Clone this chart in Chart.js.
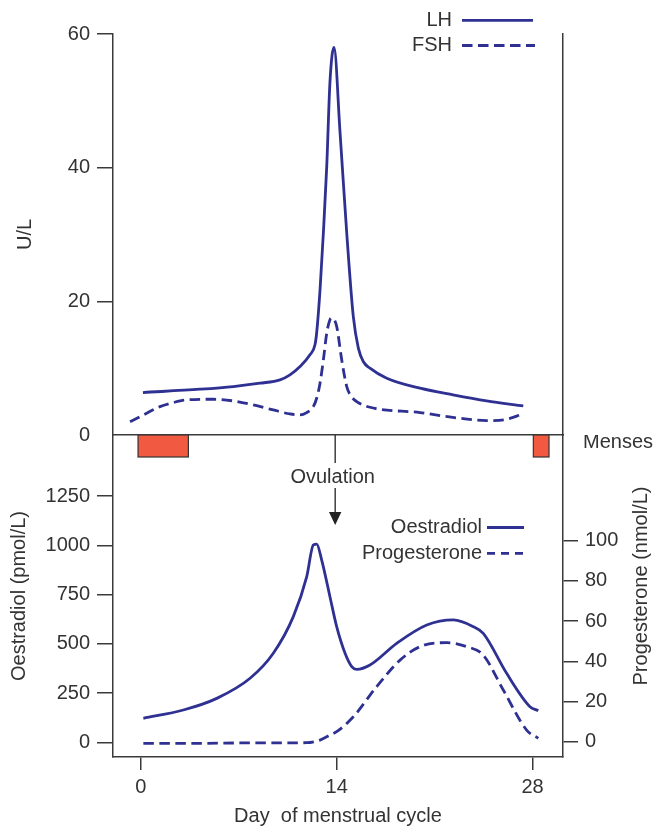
<!DOCTYPE html>
<html>
<head>
<meta charset="utf-8">
<script src="https://cdn.jsdelivr.net/npm/chart.js@4.4.1/dist/chart.umd.min.js"></script>
<style>
html,body{margin:0;padding:0;background:#fff;}
#wrap{position:relative;width:654px;height:826px;overflow:hidden;background:#fff;}
#c1{position:absolute;left:0;top:0;width:654px;height:450px;}
#c2{position:absolute;left:0;top:435px;width:654px;height:391px;}
</style>
</head>
<body>
<div id="wrap">
<canvas id="c1" width="654" height="450"></canvas>
<canvas id="c2" width="654" height="391"></canvas>
</div>
<script>
// ---------- data ----------
const dayTicks = [0, 14, 28];
const uTicks = [0, 20, 40, 60];
const oestradiolTicks = [0, 250, 500, 750, 1000, 1250];
const progesteroneTicks = [0, 20, 40, 60, 80, 100];

const lhDays   = [0.15, 4.23, 6.61, 8.52, 9.95, 10.66, 11.38, 12.09, 12.45, 12.57, 12.81, 13.05, 13.29, 13.52, 13.81, 14.24, 14.72, 15.19, 15.55, 15.90, 16.38, 17.58, 19.96, 22.32, 24.72, 27.34];
const lhValues = [6.35, 6.85, 7.25, 7.75, 8.25, 9.0, 10.25, 12.0, 13.5, 15.3, 21.7, 30.3, 40.2, 52.8, 58.0, 45.3, 30.2, 17.7, 13.0, 11.0, 10.0, 8.5, 7.0, 6.0, 5.1, 4.35];

const fshDays   = [-0.77, 0.18, 1.37, 2.32, 3.28, 5.18, 6.61, 8.04, 9.47, 10.66, 11.38, 11.86, 12.33, 12.57, 12.81, 13.05, 13.29, 13.52, 13.65, 14.0, 14.36, 14.72, 15.08, 15.43, 16.38, 19.96, 22.82, 24.72, 26.15, 27.23];
const fshValues = [2.0, 3.0, 4.25, 4.85, 5.25, 5.35, 5.1, 4.5, 3.75, 3.15, 3.0, 3.35, 4.25, 5.5, 7.75, 11.25, 15.25, 17.25, 17.5, 16.25, 11.25, 7.25, 5.7, 5.0, 4.15, 3.35, 2.5, 2.15, 2.35, 3.1];

const oestradiolDays   = [0.18, 3.04, 5.43, 7.81, 9.47, 10.9, 11.86, 12.33, 12.57, 12.93, 13.52, 14.0, 14.6, 15.08, 15.43, 16.38, 18.29, 20.44, 22.34, 23.77, 24.48, 26.15, 27.82, 28.41];
const oestradiolValues = [122, 164, 223, 325, 452, 638, 841, 1001, 1006, 925, 739, 587, 452, 384, 370, 392, 502, 595, 621, 587, 553, 350, 181, 160];

const progesteroneDays   = [0.18, 4.23, 7.81, 11.86, 12.81, 13.52, 14.0, 15.19, 16.86, 18.53, 19.96, 21.87, 23.3, 24.48, 25.91, 27.58, 28.41];
const progesteroneValues = [-0.8, -0.8, -0.6, -0.5, 0.8, 3.3, 5.0, 12.4, 27.4, 40.6, 47.3, 49.3, 47.3, 43.1, 25.7, 5.8, 1.7];

const mensesStart = [-0.2, 28.06];
const mensesEnd   = [3.4, 29.18];
const ovulationDay = 14;

// ---------- styling ----------
const FONT = "'Liberation Sans', Arial, sans-serif";
const NAVY = '#2e3092';
const AXIS = '#3a3a3a';
const TEXT = '#333333';
const RED = '#f15a40';
const DASH = [10.5, 5.5];
const X_MIN = -1.99, X_MAX = 30.18;

Chart.defaults.font.family = FONT;
Chart.defaults.font.size = 20;
Chart.defaults.color = TEXT;

function pts(xs, ys) { return xs.map((x, i) => ({x: x, y: ys[i]})); }
function fixTicks(values) { return function(scale) { scale.ticks = values.map(v => ({value: v})); }; }
function vFit(width) { return function(s) { s.width = width; s.paddingTop = 0; s.paddingBottom = 0; }; }
function hFit(height) { return function(s) { s.height = height; s.paddingLeft = 0; s.paddingRight = 0; }; }
const plainTick = (v) => String(v);

function lineDs(label, data, dash, axis) {
  return {
    label: label, data: data, borderColor: NAVY, borderWidth: 2.8,
    borderDash: dash, pointRadius: 0, fill: false,
    cubicInterpolationMode: 'monotone', yAxisID: axis || 'y'
  };
}

function drawLegend(ctx, items, textRight, lineStart) {
  ctx.save();
  ctx.font = '20px ' + FONT;
  ctx.fillStyle = TEXT;
  ctx.textAlign = 'right';
  ctx.textBaseline = 'middle';
  items.forEach(it => {
    ctx.fillText(it.label, textRight, it.y);
    ctx.beginPath();
    ctx.setLineDash(it.dash);
    ctx.strokeStyle = NAVY;
    ctx.lineWidth = 2.8;
    ctx.moveTo(lineStart, it.y);
    ctx.lineTo(it.end, it.y);
    ctx.stroke();
  });
  ctx.restore();
}

const legendTop = {
  id: 'legendTop',
  afterDraw(chart) {
    const ds = chart.data.datasets;
    drawLegend(chart.ctx, [
      {label: ds[0].label, y: 20.3, dash: [], end: 533},
      {label: ds[1].label, y: 45.5, dash: DASH, end: 535}
    ], 452, 462);
  }
};

const annotBottom = {
  id: 'annotBottom',
  afterDraw(chart) {
    const ctx = chart.ctx, ca = chart.chartArea, xs = chart.scales.x;
    ctx.save();
    // menses bars
    for (let i = 0; i < mensesStart.length; i++) {
      const x1 = xs.getPixelForValue(mensesStart[i]);
      const x2 = xs.getPixelForValue(mensesEnd[i]);
      ctx.fillStyle = RED;
      ctx.fillRect(x1, ca.top, x2 - x1, 22);
      ctx.strokeStyle = '#333';
      ctx.lineWidth = 1.2;
      ctx.strokeRect(x1, ca.top, x2 - x1, 22);
    }
    ctx.font = '20px ' + FONT;
    ctx.fillStyle = TEXT;
    ctx.textBaseline = 'middle';
    ctx.textAlign = 'left';
    ctx.fillText('Menses', 583, ca.top + 7.5);

    // ovulation arrow
    const ox = xs.getPixelForValue(ovulationDay) - 1.5;
    ctx.strokeStyle = '#222';
    ctx.lineWidth = 1.3;
    ctx.beginPath();
    ctx.moveTo(ox, ca.top); ctx.lineTo(ox, ca.top + 28);
    ctx.moveTo(ox, ca.top + 53); ctx.lineTo(ox, ca.top + 78);
    ctx.stroke();
    ctx.fillStyle = '#222';
    ctx.beginPath();
    ctx.moveTo(ox - 6.2, ca.top + 77);
    ctx.lineTo(ox + 6.2, ca.top + 77);
    ctx.lineTo(ox, ca.top + 90);
    ctx.closePath();
    ctx.fill();
    ctx.fillStyle = TEXT;
    ctx.textAlign = 'center';
    ctx.fillText('Ovulation', ox - 2.5, ca.top + 42.5);

    // right axis title (reads bottom-to-top)
    ctx.save();
    ctx.translate(641.5, ca.top + 151);
    ctx.rotate(-Math.PI / 2);
    ctx.textAlign = 'center';
    ctx.textBaseline = 'middle';
    ctx.fillText('Progesterone (nmol/L)', 0, 0);
    ctx.restore();
    ctx.restore();

    const ds = chart.data.datasets;
    drawLegend(ctx, [
      {label: ds[0].label, y: ca.top + 92.5, dash: [], end: 524},
      {label: ds[1].label, y: ca.top + 118.3, dash: [8, 6], end: 527}
    ], 482, 487);
  }
};

const yGrid = (len) => ({
  drawOnChartArea: false, drawTicks: true, tickLength: len,
  color: AXIS, lineWidth: 1.5
});
const border = {display: true, color: AXIS, width: 1.5};

// ---------- top chart: LH / FSH ----------
new Chart(document.getElementById('c1'), {
  type: 'line',
  data: {
    datasets: [
      lineDs('LH', pts(lhDays, lhValues), []),
      lineDs('FSH', pts(fshDays, fshValues), DASH)
    ]
  },
  options: {
    responsive: false, animation: false, events: [],
    layout: {padding: {top: 34, left: 0, right: 0, bottom: 0}},
    plugins: {legend: {display: false}, tooltip: {enabled: false}},
    scales: {
      x: {
        type: 'linear', position: 'bottom', min: X_MIN, max: X_MAX,
        ticks: {display: false}, grid: {display: false}, border: border,
        afterFit: hFit(15)
      },
      y: {
        position: 'left', min: 0, max: 60,
        afterBuildTicks: fixTicks(uTicks),
        ticks: {padding: 7, color: TEXT, font: {size: 20}, callback: plainTick},
        grid: Object.assign(yGrid(16), {
          tickColor: (c) => (c.tick && c.tick.value === 0) ? 'rgba(0,0,0,0)' : AXIS
        }),
        border: border,
        title: {display: true, text: 'U/L', color: TEXT, font: {size: 20}, padding: {top: 13, bottom: 0}},
        afterFit: vFit(113)
      },
      y2: {
        position: 'right', min: 0, max: 1,
        ticks: {display: false}, grid: {display: false}, border: border,
        afterFit: vFit(91)
      }
    }
  },
  plugins: [legendTop]
});

// ---------- bottom chart: Oestradiol / Progesterone ----------
new Chart(document.getElementById('c2'), {
  type: 'line',
  data: {
    datasets: [
      lineDs('Oestradiol', pts(oestradiolDays, oestradiolValues), [], 'y'),
      lineDs('Progesterone', pts(progesteroneDays, progesteroneValues), DASH, 'y2')
    ]
  },
  options: {
    responsive: false, animation: false, events: [],
    layout: {padding: 0},
    plugins: {legend: {display: false}, tooltip: {enabled: false}},
    scales: {
      x: {
        type: 'linear', position: 'bottom', min: X_MIN, max: X_MAX,
        afterBuildTicks: fixTicks(dayTicks),
        ticks: {padding: 5, color: TEXT, font: {size: 20}, maxRotation: 0, callback: plainTick},
        grid: {drawOnChartArea: false, drawTicks: true, tickLength: 13, color: AXIS, lineWidth: 1.5},
        border: border,
        title: {display: true, text: 'Day  of menstrual cycle', color: TEXT,
                font: {size: 20, lineHeight: 1.0}, padding: {top: 0, bottom: 0}},
        afterFit: hFit(69)
      },
      y: {
        position: 'left', min: -74.6, max: 1559.6,
        afterBuildTicks: fixTicks(oestradiolTicks),
        ticks: {padding: 7, color: TEXT, font: {size: 20}, callback: plainTick},
        grid: yGrid(16),
        border: border,
        title: {display: true, text: 'Oestradiol (pmol/L)', color: TEXT, font: {size: 20}, padding: {top: 7, bottom: 0}},
        afterFit: vFit(113)
      },
      y2: {
        position: 'right', min: -7.61, max: 152.6,
        afterBuildTicks: fixTicks(progesteroneTicks),
        ticks: {padding: 7, color: TEXT, font: {size: 20}, callback: plainTick},
        grid: yGrid(15),
        border: border,
        afterFit: vFit(91)
      }
    }
  },
  plugins: [annotBottom]
});
</script>
</body>
</html>
